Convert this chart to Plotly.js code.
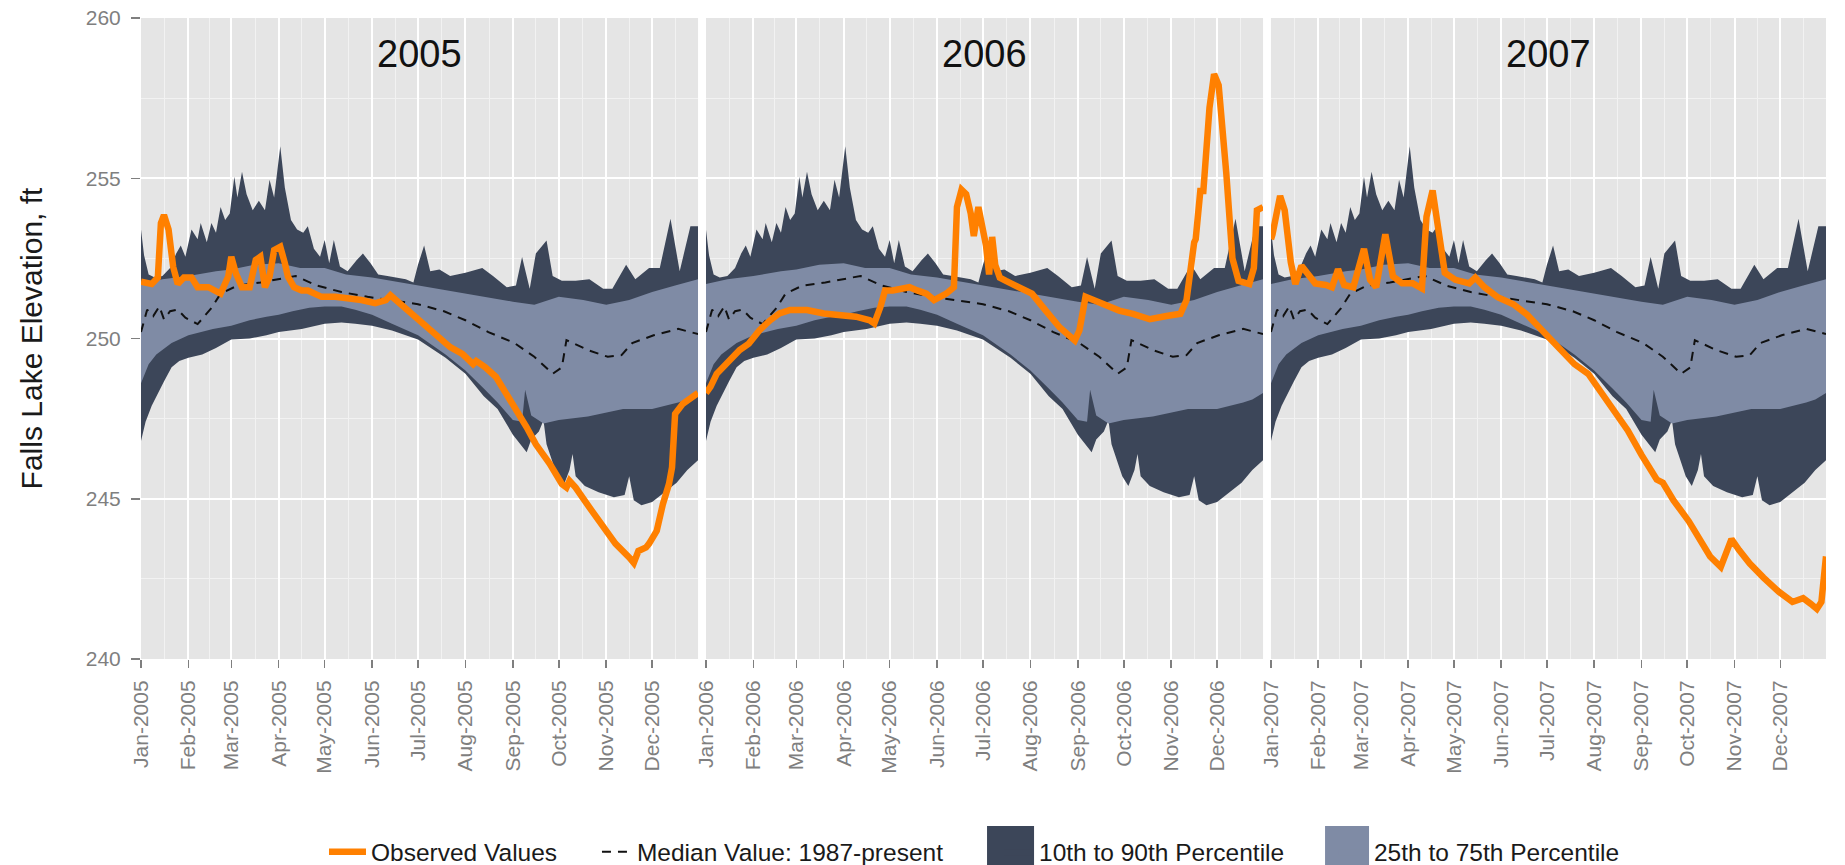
<!DOCTYPE html>
<html>
<head>
<meta charset="utf-8">
<script src="https://cdn.plot.ly/plotly-3.0.1.min.js"></script>
<style>html,body{margin:0;padding:0;background:#fff;}#chart{width:1845px;height:865px;}</style>
</head>
<body>
<div id="chart"></div>
<script>
// ---------- data ----------
const years = [2005, 2006, 2007];

// Daily climatology 1987-present, by day of year
const p10Doy = [1,4,8,12,16,21,26,32,41,50,60,72,83,91,106,121,132,141,152,165,182,200,213,225,234,244,249,253,256,261,264,266,273,277,281,283,285,291,300,310,317,320,323,328,335,342,351,358,365];
const p10 = [246.8,247.4,247.9,248.3,248.66,249.1,249.3,249.4,249.5,249.7,249.97,250.0,250.1,250.2,250.3,250.46,250.5,250.46,250.4,250.25,249.97,249.4,248.9,248.2,247.8,247.0,246.7,246.45,246.85,247.1,247.45,246.7,245.7,245.4,245.9,246.4,245.7,245.4,245.2,245.05,245.12,245.7,244.95,244.8,244.9,245.15,245.5,245.9,246.2];

const p25Doy = [1,6,11,21,32,48,60,72,83,91,100,111,121,132,141,152,165,182,200,213,225,234,244,250,252,256,264,274,293,305,316,335,352,358,365];
const p25 = [248.6,249.2,249.5,249.86,250.1,250.3,250.4,250.57,250.68,250.74,250.85,250.96,251.0,251.0,250.9,250.74,250.46,250.1,249.5,249.0,248.44,248.0,247.46,247.4,248.4,247.6,247.35,247.46,247.57,247.68,247.8,247.8,248.0,248.1,248.3];

const p50Doy = [1,5,9,13,16,20,25,30,38,47,53,64,79,92,102,116,132,149,163,182,199,213,228,245,258,270,276,279,293,306,315,322,336,352,365];
const p50 = [250.2,250.9,250.7,251.0,250.6,250.85,250.9,250.65,250.45,250.95,251.4,251.65,251.75,251.85,251.95,251.65,251.45,251.3,251.2,251.07,250.85,250.57,250.2,249.86,249.43,248.9,249.1,249.95,249.64,249.43,249.48,249.86,250.1,250.3,250.14];

const p75Doy = [1,15,32,50,60,75,91,105,121,135,152,170,182,200,213,230,244,258,268,274,290,305,320,335,350,365];
const p75 = [251.7,251.85,251.95,252.1,252.15,252.3,252.35,252.2,252.2,252.0,251.9,251.75,251.65,251.5,251.4,251.25,251.15,251.05,251.2,251.3,251.2,251.05,251.2,251.45,251.65,251.85];

const p90Doy = [1,3,6,10,15,20,24,27,30,34,38,40,44,47,50,53,56,59,62,64,67,70,74,78,82,85,88,92,95,99,103,107,110,114,118,121,124,127,131,136,142,146,151,156,162,168,174,179,182,186,190,196,203,213,224,231,240,246,250,255,259,266,270,276,285,294,303,309,318,324,333,340,347,353,360,365];
const p90 = [253.4,252.6,252.0,251.9,251.95,252.2,252.65,252.9,252.55,253.4,253.1,253.6,253.0,253.6,253.3,254.1,253.7,253.9,255.05,254.4,255.2,254.5,254.0,254.3,254.0,254.95,254.4,256.0,254.7,253.7,253.4,253.3,253.5,252.8,252.55,253.07,252.35,253.07,252.25,252.1,252.45,252.65,252.35,252.0,251.95,251.9,251.85,251.75,252.3,252.9,252.1,252.15,251.95,252.05,252.2,251.95,251.6,251.65,252.54,251.55,252.65,253.06,251.95,251.8,251.8,251.85,251.55,251.55,252.3,251.85,252.2,252.2,253.74,252.1,253.5,253.5];

// Observed lake elevation
const obs2005Doy = [1,8,12,14,16,19,22,25,29,34,38,45,53,58,60,63,67,72,76,79,82,85,88,92,95,97,101,106,110,119,128,137,145,154,161,164,170,176,181,187,194,203,211,218,220,226,233,240,246,253,259,268,276,279,281,285,294,303,311,320,323,326,331,333,336,338,342,346,348,349,350,355,361,365];
const obs2005 = [251.77,251.7,251.9,253.6,253.85,253.4,252.24,251.7,251.9,251.9,251.6,251.6,251.4,251.93,252.55,252.03,251.6,251.6,252.45,252.55,251.6,251.93,252.76,252.86,252.35,251.93,251.6,251.5,251.5,251.3,251.3,251.25,251.2,251.1,251.2,251.35,251.1,250.8,250.6,250.35,250.04,249.73,249.52,249.2,249.3,249.1,248.8,248.27,247.75,247.23,246.7,246.1,245.46,245.35,245.56,245.35,244.73,244.1,243.6,243.17,243.0,243.37,243.48,243.6,243.9,244.0,244.83,245.46,245.98,247.0,247.65,247.96,248.17,248.3];

const obs2006Doy = [1,4,8,12,18,23,29,36,43,49,56,67,78,88,99,108,111,115,118,123,128,134,139,145,150,154,158,163,165,168,171,174,176,179,181,184,186,188,190,193,197,206,214,223,232,242,245,249,254,262,271,280,291,302,311,315,317,320,321,324,326,330,333,336,341,345,349,356,359,361,365];
const obs2006 = [248.3,248.5,248.9,249.1,249.43,249.64,249.84,250.26,250.57,250.78,250.89,250.89,250.78,250.73,250.68,250.57,250.47,250.99,251.5,251.5,251.56,251.6,251.5,251.4,251.2,251.3,251.4,251.6,254.1,254.64,254.5,253.9,253.2,254.1,253.6,252.9,252.0,253.17,252.3,251.9,251.8,251.6,251.4,250.87,250.35,249.94,250.25,251.3,251.2,251.03,250.87,250.77,250.6,250.7,250.77,251.2,252.0,253.0,253.1,254.6,254.6,257.2,258.25,257.9,255.15,252.5,251.8,251.7,252.2,254.0,254.1];

const obs2007Doy = [1,2,7,10,14,17,21,26,30,37,41,45,49,55,62,66,70,76,81,87,94,100,103,107,111,115,122,131,135,141,150,160,169,178,188,200,209,216,225,235,244,254,258,265,275,282,289,296,299,303,308,315,324,334,343,350,355,359,362,364,365];
const obs2007 = [253.1,253.25,254.45,254.0,252.38,251.7,252.27,251.94,251.72,251.67,251.6,252.16,251.67,251.6,252.8,251.83,251.6,253.25,251.94,251.72,251.72,251.56,253.8,254.62,253.25,252.05,251.83,251.72,251.9,251.6,251.28,251.07,250.74,250.3,249.75,249.2,248.9,248.44,247.8,247.13,246.37,245.6,245.5,244.95,244.3,243.74,243.2,242.87,243.2,243.74,243.4,242.98,242.54,242.1,241.78,241.9,241.72,241.56,241.78,242.6,243.2];

const observedDoy = {2005: obs2005Doy, 2006: obs2006Doy, 2007: obs2007Doy};
const observed = {2005: obs2005, 2006: obs2006, 2007: obs2007};

const yTicks = [240, 245, 250, 255, 260];
const legendNames = ['Observed Values', 'Median Value: 1987-present', '10th to 90th Percentile', '25th to 75th Percentile'];

// ---------- styling ----------
const FONT = 'Liberation Sans, Arial, sans-serif';
const C_DARK = '#3c4659';
const C_LIGHT = '#7f8ba5';
const C_ORANGE = '#ff8000';
const C_BG = '#e5e5e5';
const C_TICK = '#7f7f7f';
const domains = [[0, 0.3306], [0.3353, 0.6659], [0.6706, 1]];

function doyToDate(year, doy) {
  const d = new Date(Date.UTC(year, 0, 1) + (doy - 1) * 86400000);
  return d.toISOString().slice(0, 10);
}
function midMonths(year) {
  const out = [];
  for (let m = 0; m < 12; m++) {
    const a = Date.UTC(year, m, 1), b = Date.UTC(year, m + 1, 1);
    out.push(new Date((a + b) / 2).toISOString().slice(0, 19));
  }
  return out;
}

const traces = [];
const layout = {
  width: 1845, height: 865,
  margin: {l: 141, r: 19, t: 18, b: 206, autoexpand: false},
  paper_bgcolor: '#ffffff', plot_bgcolor: C_BG,
  font: {family: FONT, color: '#1a1a1a'},
  showlegend: true,
  hovermode: false,
  annotations: [],
  shapes: [],
  yaxis: {
    domain: [0, 1], range: [240, 260], tickvals: yTicks, ticktext: yTicks.map(String),
    ticks: 'outside', ticklen: 9, tickwidth: 1.5, tickcolor: C_TICK, ticklabelstandoff: 6,
    tickfont: {size: 21, color: C_TICK, family: FONT},
    showgrid: true, gridcolor: '#ffffff', gridwidth: 2, zeroline: false, showline: false,
    minor: {dtick: 2.5, tick0: 240, showgrid: true, gridcolor: '#f2f2f2', gridwidth: 1, ticks: ''},
    title: {text: 'Falls Lake Elevation, ft', font: {size: 30, color: '#1a1a1a', family: FONT}, standoff: 34},
    anchor: 'x', fixedrange: true
  }
};

years.forEach((yr, i) => {
  const xa = i === 0 ? 'x' : 'x' + (i + 1);
  const key = i === 0 ? 'xaxis' : 'xaxis' + (i + 1);
  const dates = arr => arr.map(d => doyToDate(yr, d));
  const first = i === 0;
  const common = {xaxis: xa, yaxis: 'y', type: 'scatter', mode: 'lines', hoverinfo: 'skip'};

  traces.push(Object.assign({}, common, {x: dates(p10Doy), y: p10, line: {width: 0, color: C_DARK}, showlegend: false}));
  traces.push(Object.assign({}, common, {x: dates(p90Doy), y: p90, fill: 'tonexty', fillcolor: C_DARK, line: {width: 0, color: C_DARK},
    name: legendNames[2], showlegend: first, legend: 'legend3'}));
  traces.push(Object.assign({}, common, {x: dates(p25Doy), y: p25, line: {width: 0, color: C_LIGHT}, showlegend: false}));
  traces.push(Object.assign({}, common, {x: dates(p75Doy), y: p75, fill: 'tonexty', fillcolor: C_LIGHT, line: {width: 0, color: C_LIGHT},
    name: legendNames[3], showlegend: first, legend: 'legend4'}));
  traces.push(Object.assign({}, common, {x: dates(p50Doy), y: p50, line: {width: 2, color: '#111111', dash: '9px,7px'},
    name: legendNames[1], showlegend: first, legend: 'legend2'}));
  traces.push(Object.assign({}, common, {x: dates(observedDoy[yr]), y: observed[yr], line: {width: 6.5, color: C_ORANGE},
    name: legendNames[0], showlegend: first, legend: 'legend'}));

  layout[key] = {
    domain: domains[i], anchor: 'y', type: 'date',
    range: [yr + '-01-01', yr + '-12-31'],
    tickmode: 'linear', tick0: yr + '-01-01', dtick: 'M1', tickformat: '%b-%Y', tickangle: -90,
    ticks: 'outside', ticklen: 8, tickwidth: 1.5, tickcolor: C_TICK, ticklabelstandoff: 4,
    tickfont: {size: 21, color: C_TICK, family: FONT},
    showgrid: true, gridcolor: '#ffffff', gridwidth: 2, zeroline: false, showline: false,
    minor: {tickmode: 'array', tickvals: midMonths(yr), showgrid: true, gridcolor: '#f2f2f2', gridwidth: 1, ticks: ''},
    fixedrange: true
  };
  layout.annotations.push({
    text: String(yr), xref: key.replace('axis', '') + ' domain', x: 0.5, yref: 'paper', y: 0.9446,
    showarrow: false, font: {size: 38, color: '#111111', family: FONT}, xanchor: 'center', yanchor: 'middle'
  });
});

// legends: one per key so each entry sits where the reference puts it
const legBase = {orientation: 'h', yref: 'paper', y: -0.301, yanchor: 'middle', xanchor: 'left',
  bgcolor: 'rgba(0,0,0,0)', font: {size: 24.5, color: '#1a1a1a', family: FONT}};
layout.legend = Object.assign({}, legBase, {x: 0.1086, itemwidth: 37});
layout.legend2 = Object.assign({}, legBase, {x: 0.2706, itemwidth: 30});
layout.legend3 = Object.assign({}, legBase, {x: 0.5092, itemwidth: 30});
layout.legend4 = Object.assign({}, legBase, {x: 0.7080, itemwidth: 30});

// larger square swatches behind the two band legend keys
const swatch = (x0, x1, color) => ({type: 'rect', xref: 'paper', yref: 'paper', x0: x0, x1: x1, y0: -0.335, y1: -0.2605,
  fillcolor: color, line: {width: 0}, layer: 'above'});
layout.shapes.push(swatch(0.5021, 0.5300, C_DARK));
layout.shapes.push(swatch(0.7027, 0.7288, C_LIGHT));

Plotly.newPlot('chart', traces, layout, {staticPlot: true, displayModeBar: false});
</script>
</body>
</html>
